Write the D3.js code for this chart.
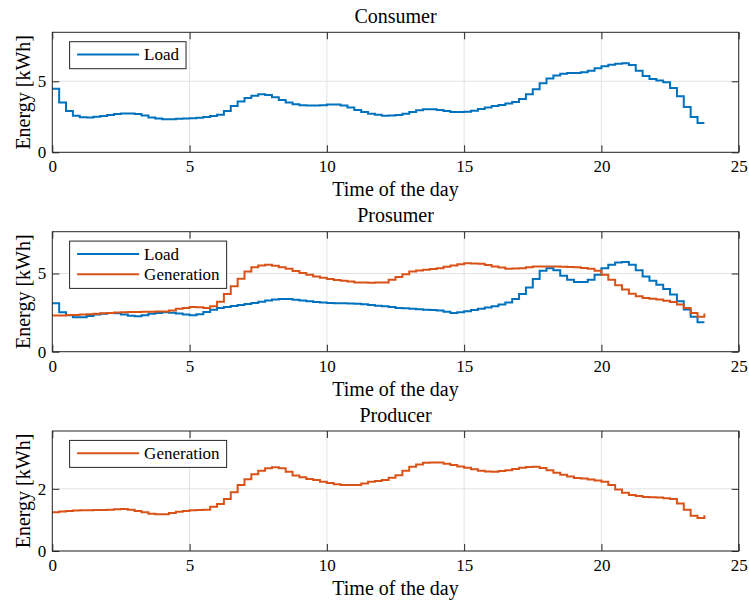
<!DOCTYPE html>
<html>
<head>
<meta charset="utf-8">
<script src="https://cdn.jsdelivr.net/npm/d3@7"></script>
<style>
  body { margin: 0; background: #fff; }
  text { font-family: "Liberation Serif", "DejaVu Serif", serif; fill: #000; }
</style>
</head>
<body>
<script>
// 15 minute steps, 0 .. 23.75 h
var times = d3.range(0, 24, 0.25);

var consumerLoad = [4.48, 3.50, 2.91, 2.58, 2.46, 2.45, 2.50, 2.56, 2.62, 2.69, 2.74, 2.74,
  2.70, 2.60, 2.45, 2.38, 2.33, 2.33, 2.36, 2.38, 2.40, 2.43, 2.49, 2.55,
  2.65, 2.91, 3.26, 3.57, 3.83, 3.99, 4.08, 4.04, 3.87, 3.69, 3.50, 3.38,
  3.31, 3.29, 3.29, 3.32, 3.36, 3.36, 3.30, 3.16, 2.98, 2.84, 2.72, 2.64,
  2.58, 2.60, 2.63, 2.72, 2.84, 2.96, 3.04, 3.03, 2.98, 2.90, 2.84, 2.83,
  2.86, 2.93, 3.05, 3.15, 3.26, 3.33, 3.43, 3.55, 3.76, 4.08, 4.44, 4.86,
  5.19, 5.40, 5.54, 5.58, 5.59, 5.64, 5.75, 5.92, 6.06, 6.16, 6.24, 6.27,
  6.15, 5.75, 5.38, 5.16, 5.05, 4.93, 4.53, 3.94, 3.19, 2.49, 2.07, 2.07];

var prosumerLoad = [3.10, 2.52, 2.33, 2.20, 2.20, 2.28, 2.37, 2.43, 2.48, 2.45, 2.37, 2.30,
  2.27, 2.33, 2.42, 2.48, 2.52, 2.49, 2.44, 2.38, 2.33, 2.40, 2.54, 2.68,
  2.80, 2.86, 2.92, 2.98, 3.05, 3.12, 3.19, 3.27, 3.33, 3.37, 3.37, 3.32,
  3.27, 3.22, 3.18, 3.14, 3.12, 3.10, 3.09, 3.08, 3.07, 3.04, 2.99, 2.94,
  2.90, 2.85, 2.80, 2.77, 2.74, 2.71, 2.68, 2.66, 2.63, 2.55, 2.48, 2.52,
  2.59, 2.66, 2.74, 2.82, 2.90, 3.01, 3.14, 3.37, 3.69, 4.11, 4.64, 5.17,
  5.34, 5.20, 4.86, 4.60, 4.45, 4.45, 4.60, 4.92, 5.34, 5.56, 5.70, 5.73,
  5.56, 5.20, 4.81, 4.54, 4.28, 4.01, 3.65, 3.22, 2.69, 2.23, 1.89, 1.89];

var prosumerGeneration = [2.31, 2.32, 2.34, 2.35, 2.37, 2.40, 2.43, 2.46, 2.48, 2.50, 2.52, 2.53,
  2.54, 2.55, 2.56, 2.57, 2.57, 2.64, 2.74, 2.80, 2.86, 2.84, 2.80, 2.90,
  3.20, 3.69, 4.18, 4.66, 5.13, 5.39, 5.51, 5.56, 5.49, 5.40, 5.30, 5.16,
  5.03, 4.92, 4.81, 4.72, 4.64, 4.59, 4.54, 4.48, 4.43, 4.42, 4.41, 4.42,
  4.43, 4.60, 4.77, 4.95, 5.13, 5.19, 5.24, 5.29, 5.34, 5.43, 5.51, 5.59,
  5.66, 5.64, 5.62, 5.54, 5.45, 5.38, 5.30, 5.32, 5.34, 5.40, 5.45, 5.45,
  5.45, 5.44, 5.43, 5.41, 5.39, 5.35, 5.30, 5.17, 4.92, 4.60, 4.24, 3.97,
  3.71, 3.54, 3.44, 3.38, 3.33, 3.26, 3.18, 3.01, 2.80, 2.48, 2.23, 2.44];

var producerGeneration = [1.25, 1.27, 1.29, 1.30, 1.31, 1.31, 1.32, 1.32, 1.33, 1.34, 1.35, 1.33,
  1.29, 1.25, 1.20, 1.18, 1.18, 1.22, 1.26, 1.29, 1.31, 1.32, 1.33, 1.42,
  1.51, 1.67, 1.89, 2.12, 2.31, 2.47, 2.58, 2.66, 2.69, 2.66, 2.55, 2.43,
  2.37, 2.32, 2.28, 2.23, 2.19, 2.15, 2.12, 2.12, 2.12, 2.17, 2.23, 2.25,
  2.28, 2.36, 2.44, 2.58, 2.71, 2.78, 2.84, 2.85, 2.85, 2.81, 2.77, 2.72,
  2.68, 2.63, 2.58, 2.56, 2.55, 2.57, 2.60, 2.64, 2.68, 2.70, 2.71, 2.67,
  2.60, 2.52, 2.45, 2.40, 2.35, 2.33, 2.30, 2.27, 2.23, 2.12, 1.98, 1.87,
  1.80, 1.77, 1.74, 1.73, 1.72, 1.70, 1.67, 1.53, 1.33, 1.13, 1.06, 1.15];

var panelTitles = ["Consumer", "Prosumer", "Producer"];
var yLimits = [8.45, 7.67, 3.86];
var yTickValues = [[0, 5], [0, 5], [0, 2]];
var xTickValues = [0, 5, 10, 15, 20, 25];
var xLabel = "Time of the day";
var yLabel = "Energy [kWh]";

var blue = "#0072BD", orange = "#D95319";

var panels = [
  { series: [{ name: "Load", values: consumerLoad, color: blue }] },
  { series: [{ name: "Load", values: prosumerLoad, color: blue },
             { name: "Generation", values: prosumerGeneration, color: orange }] },
  { series: [{ name: "Generation", values: producerGeneration, color: orange }] }
];

var width = 749, height = 603;
var left = 52.3, right = 738.7;
var plotTops = [32.3, 231.7, 431], plotH = 120;
var tickLen = 7;
var axisColor = "#262626", gridColor = "#e3e3e3";
var fmt = d3.format("d");

var svg = d3.select("body").append("svg")
  .attr("width", width)
  .attr("height", height);

var x = d3.scaleLinear().domain([0, 25]).range([left, right]);

panels.forEach(function (p, k) {
  var top = plotTops[k], bottom = top + plotH;
  var y = d3.scaleLinear().domain([0, yLimits[k]]).range([bottom, top]);
  var g = svg.append("g");

  // grid
  g.selectAll(".gx").data(xTickValues).enter().append("line")
    .attr("x1", function (d) { return x(d); })
    .attr("x2", function (d) { return x(d); })
    .attr("y1", top).attr("y2", bottom)
    .attr("stroke", gridColor).attr("stroke-width", 1);
  g.selectAll(".gy").data(yTickValues[k]).enter().append("line")
    .attr("x1", left).attr("x2", right)
    .attr("y1", function (d) { return y(d); })
    .attr("y2", function (d) { return y(d); })
    .attr("stroke", gridColor).attr("stroke-width", 1);

  // axes, ticks pointing inward on all four sides
  g.append("g").attr("transform", "translate(0," + bottom + ")")
    .call(d3.axisBottom(x).tickValues(xTickValues).tickFormat(fmt).tickSize(-tickLen).tickPadding(8));
  g.append("g").attr("transform", "translate(0," + top + ")")
    .call(d3.axisTop(x).tickValues(xTickValues).tickSize(-tickLen).tickFormat(""));
  g.append("g").attr("transform", "translate(" + left + ",0)")
    .call(d3.axisLeft(y).tickValues(yTickValues[k]).tickFormat(fmt).tickSize(-tickLen).tickPadding(6));
  g.append("g").attr("transform", "translate(" + right + ",0)")
    .call(d3.axisRight(y).tickValues(yTickValues[k]).tickSize(-tickLen).tickFormat(""));

  g.selectAll(".domain").remove();
  g.selectAll(".tick line").attr("stroke", axisColor);
  g.selectAll(".tick text")
    .attr("font-family", "Liberation Serif, serif")
    .attr("font-size", 17)
    .attr("fill", "#000");

  // stairs
  var line = d3.line()
    .x(function (d, i) { return x(times[i]); })
    .y(function (d) { return y(d); })
    .curve(d3.curveStepAfter);

  p.series.forEach(function (s) {
    g.append("path")
      .datum(s.values)
      .attr("d", line)
      .attr("fill", "none")
      .attr("stroke", s.color)
      .attr("stroke-width", 2);
  });

  // box
  g.append("rect")
    .attr("x", left).attr("y", top)
    .attr("width", right - left).attr("height", plotH)
    .attr("fill", "none")
    .attr("stroke", axisColor).attr("stroke-width", 1);

  // title and labels
  g.append("text")
    .attr("x", (left + right) / 2).attr("y", top - 9.5)
    .attr("text-anchor", "middle").attr("font-size", 20)
    .text(panelTitles[k]);
  g.append("text")
    .attr("x", (left + right) / 2).attr("y", bottom + 44)
    .attr("text-anchor", "middle").attr("font-size", 20)
    .text(xLabel);
  g.append("text")
    .attr("transform", "translate(30," + (top + plotH / 2) + ")rotate(-90)")
    .attr("text-anchor", "middle").attr("font-size", 20)
    .text(yLabel);

  // legend
  var lg = g.append("g").attr("transform", "translate(" + (left + 17.3) + "," + (top + 9.4) + ")");
  var box = lg.append("rect")
    .attr("fill", "#fff").attr("stroke", axisColor).attr("stroke-width", 1);
  var maxLen = 0;
  p.series.forEach(function (s, i) {
    var cy = 12.8 + i * 20.3;
    lg.append("line")
      .attr("x1", 7.5).attr("x2", 69.5)
      .attr("y1", cy).attr("y2", cy)
      .attr("stroke", s.color).attr("stroke-width", 2);
    var t = lg.append("text")
      .attr("x", 74.5).attr("y", cy)
      .attr("dy", "0.33em").attr("font-size", 17)
      .text(s.name);
    maxLen = Math.max(maxLen, t.node().getComputedTextLength());
  });
  box.attr("width", 74.5 + maxLen + 7)
    .attr("height", 27 + (p.series.length - 1) * 20.3);
});
</script>
</body>
</html>
